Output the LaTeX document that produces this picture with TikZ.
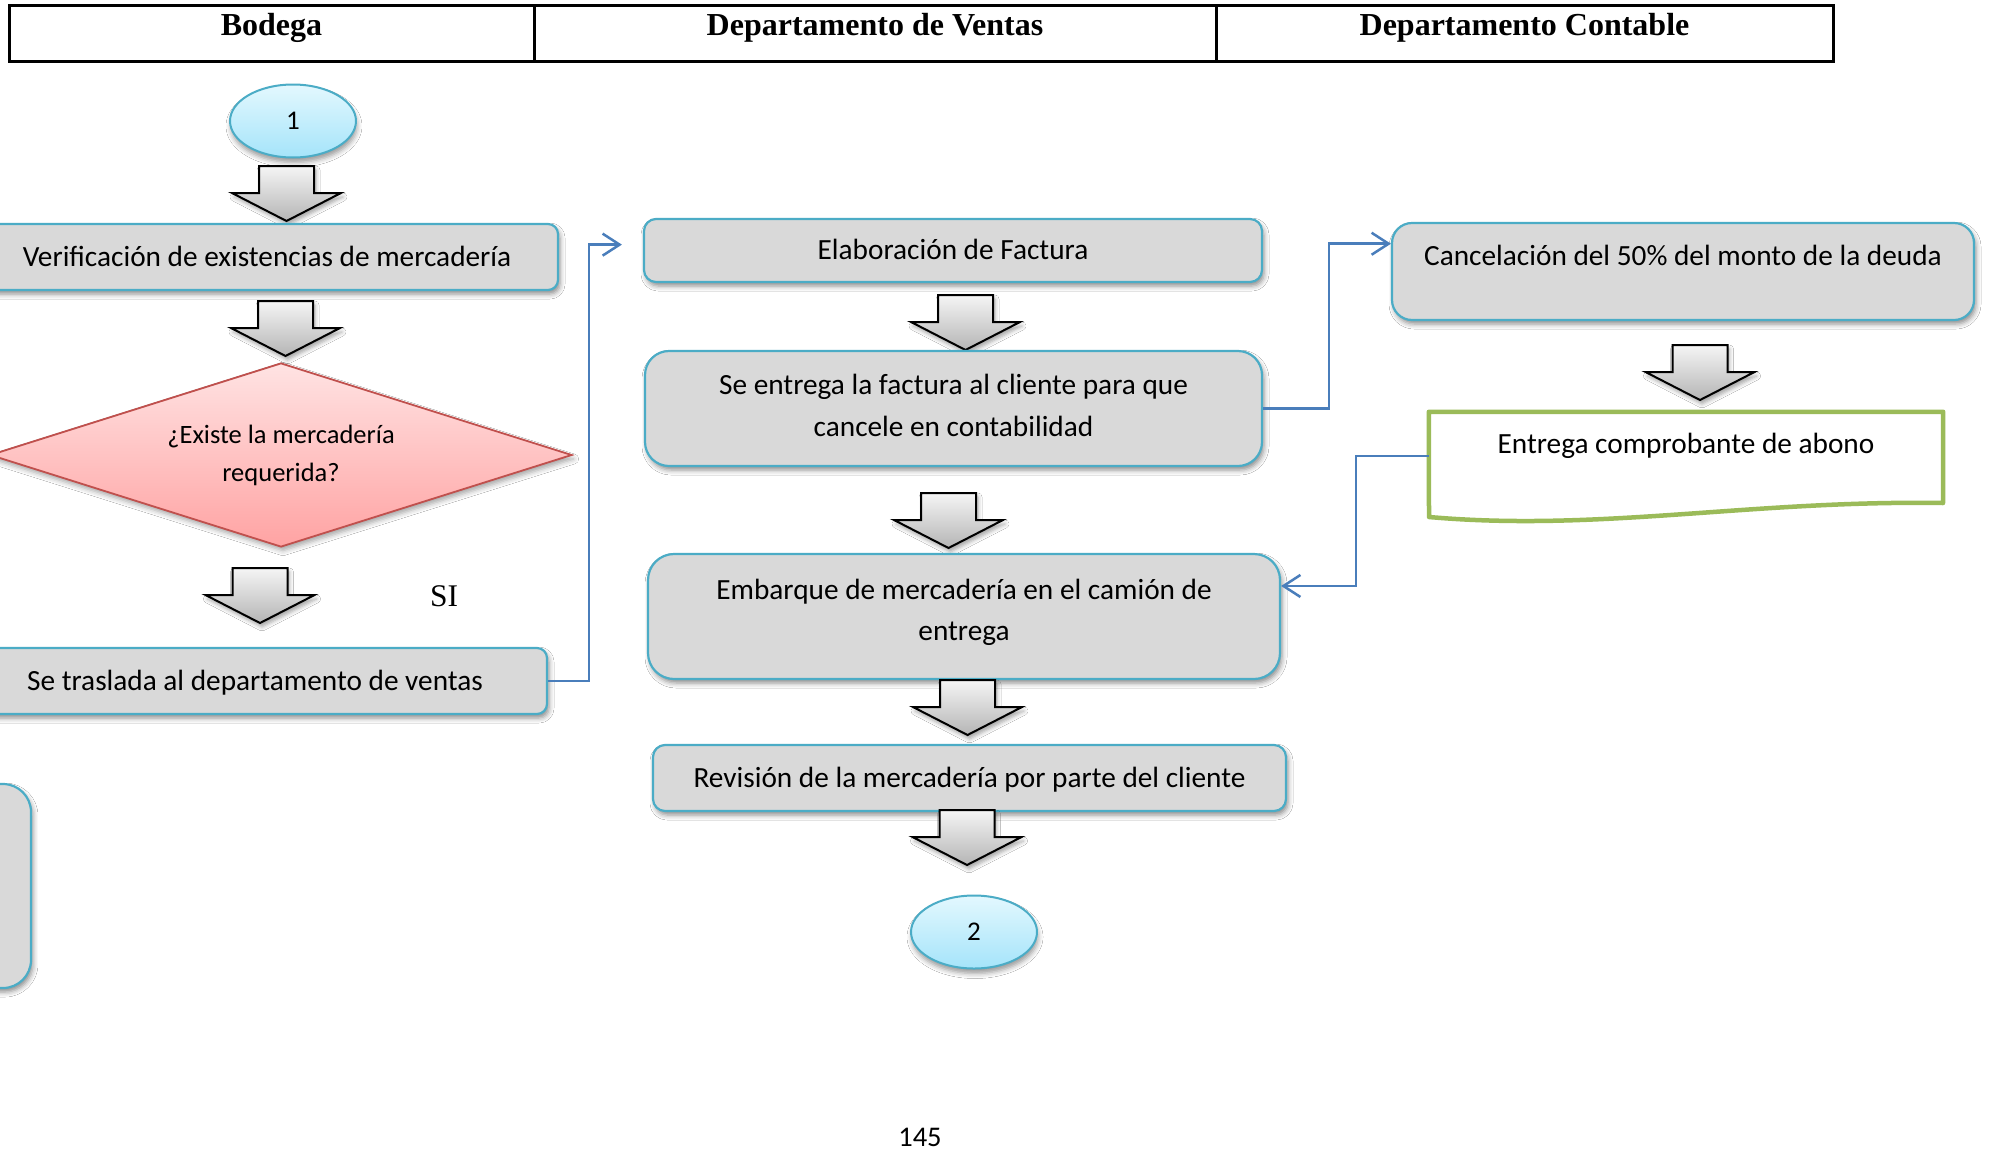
\documentclass[tikz,border=0pt]{standalone}
\usepackage{fontspec}
\setmainfont{Carlito}
\newfontfamily\timesfont{Liberation Serif}
\usetikzlibrary{shapes.geometric,arrows.meta,calc,shadows.blur}

% invisible strut that deepens the last line of a two-line label
\newcommand\bottompad[1]{\rule[-#1]{0pt}{#1}}

\definecolor{boxfill}{HTML}{D9D9D9}
\definecolor{boxline}{HTML}{4BACC6}
\definecolor{linkblue}{HTML}{4A7EBB}
\definecolor{docgreen}{HTML}{9BBB59}
\definecolor{diatop}{HTML}{FFE3E3}
\definecolor{diabot}{HTML}{FFA3A3}
\definecolor{dialine}{HTML}{C0504D}
\definecolor{ovaltop}{HTML}{E3F8FE}
\definecolor{ovalbot}{HTML}{A5E4FA}
\definecolor{arrtop}{HTML}{F5F5F5}
\definecolor{arrbot}{HTML}{B5B5B5}

\tikzset{
  softshadow/.style={blur shadow={shadow xshift=2pt,shadow yshift=-4pt,
      shadow blur radius=5pt,shadow opacity=45}},
  stepbox/.style={draw=boxline,line width=2.2pt,fill=boxfill,
      rounded corners=#1,softshadow,align=center,inner sep=0pt,
      font=\fontsize{29.3}{41.5}\selectfont},
  stepbox/.default=12pt,
  oneline/.style={text height=22pt,text depth=4pt},
  headcell/.style={draw,line width=3pt,inner sep=0pt,minimum height=56pt,
      font=\timesfont\bfseries\fontsize{32}{36}\selectfont,
      text height=21pt,text depth=17pt},
  connector/.style={draw=boxline,line width=2pt,
      top color=ovaltop,bottom color=ovalbot,ellipse,
      minimum width=126pt,minimum height=73pt,inner sep=0pt,
      font=\fontsize{27}{30}\selectfont,
      blur shadow={shadow xshift=1pt,shadow yshift=-5pt,
        shadow blur radius=5pt,shadow opacity=40}},
  decision/.style={diamond,shape aspect=3.16,draw=dialine,line width=1.8pt,
      top color=diatop,bottom color=diabot,inner sep=0pt,
      minimum width=582pt,minimum height=184pt,align=center,
      font=\fontsize{26.5}{38}\selectfont,
      blur shadow={shadow xshift=2pt,shadow yshift=-4pt,
        shadow blur radius=5pt,shadow opacity=35}},
  link/.style={draw=linkblue,line width=2.5pt,
      -{Straight Barb[length=17pt,width=22pt,line width=2.5pt]}},
  arrowbody/.style={draw=black,line width=2pt,line join=miter,
      top color=arrtop,bottom color=arrbot,
      blur shadow={shadow xshift=2pt,shadow yshift=-4pt,
        shadow blur radius=4pt,shadow opacity=35}},
  pics/downarrow/.style={code={
    \path[arrowbody] (-27.5,0) -- (27.5,0) -- (27.5,27) -- (54.5,27)
      -- (0,55) -- (-54.5,27) -- (-27.5,27) -- cycle;}}
}

\begin{document}
\begin{tikzpicture}[x=1pt,y=-1pt]
\useasboundingbox[fill=white] (0,0) rectangle (1993,1170);

% swimlane header
\node[headcell,minimum width=525pt]  (hbod) at (271.5,33) {Bodega};
\node[headcell,minimum width=682pt]  (hven) at (875,33)   {Departamento de Ventas};
\node[headcell,minimum width=617pt]  (hcon) at (1524.5,33){Departamento Contable};

% Bodega lane
\node[connector] (c1) at (293,121) {1};
\pic at (286.5,166) {downarrow};
\node[stepbox=10pt,oneline,minimum width=582pt,minimum height=66pt] (verif)
  at (267,257) {Verificación de existencias de mercadería};
\pic at (285.5,301) {downarrow};
\node[decision] (exist) at (281,455) {¿Existe la mercadería\\requerida?};
\pic at (260,568) {downarrow};
\node[font=\timesfont\fontsize{31.5}{36}\selectfont,inner sep=0pt] (si) at (444,596) {SI};
\node[stepbox=10pt,oneline,minimum width=584pt,minimum height=66pt] (trasl)
  at (255,681) {Se traslada al departamento de ventas};
\node[stepbox=28pt,minimum width=431pt,minimum height=204pt] (prev)
  at (-184.5,886) {};

% Ventas lane
\node[stepbox=12pt,oneline,minimum width=618pt,minimum height=63pt] (elab)
  at (953,250.5) {Elaboración de Factura};
\pic at (965.5,295) {downarrow};
\node[stepbox=24pt,minimum width=617pt,minimum height=115pt] (entrega)
  at (953.5,408.5) {Se entrega la factura al cliente para que\\cancele en contabilidad\bottompad{6pt}};
\pic at (948.5,493) {downarrow};
\node[stepbox=26pt,minimum width=632pt,minimum height=125pt] (emb)
  at (964,616.5) {Embarque de mercadería en el camión de\\entrega\bottompad{13pt}};
\pic at (967.5,680) {downarrow};
\node[stepbox=12pt,oneline,minimum width=633pt,minimum height=66pt] (rev)
  at (969.5,778) {Revisión de la mercadería por parte del cliente};
\pic at (967,810) {downarrow};
\node[connector] (c2) at (974,932) {2};

% Contable lane
\node[stepbox=20pt,text height=20pt,text depth=33pt,minimum width=582pt,
  minimum height=97pt] (canc) at (1683,271.5)
  {Cancelación del 50\% del monto de la deuda};
\pic at (1700,345) {downarrow};
\node[inner sep=0pt,text height=20pt,text depth=26pt,minimum width=514pt,
  minimum height=88pt,font=\fontsize{29.3}{42}\selectfont] (docbox)
  at (1686,456) {Entrega comprobante de abono};
\draw[docgreen,line width=4.5pt,line join=round]
  (docbox.north west) -- (docbox.north east) -- (1943,503)
  .. controls (1750,500) and (1600,532) .. (1429,517) -- cycle;

% page number
\node[font=\fontsize{28.5}{32}\selectfont,inner sep=0pt,anchor=base] (pageno)
  at (920,1146) {145};

% connectors between lanes
\coordinate (elabin) at ($(elab.north west)!0.41!(elab.south west)+(-21,0)$);
\coordinate (cancin) at ($(canc.north west)!0.22!(canc.south west)$);
\coordinate (embin)  at ($(emb.north east)!0.26!(emb.south east)$);
\draw[link] (trasl.east) -- ++(41,0) |- (elabin);
\draw[link] (entrega.east) -- ++(66,0) |- (cancin);
\draw[link] (docbox.west) -- ++(-73,0) |- (embin);
\end{tikzpicture}
\end{document}
